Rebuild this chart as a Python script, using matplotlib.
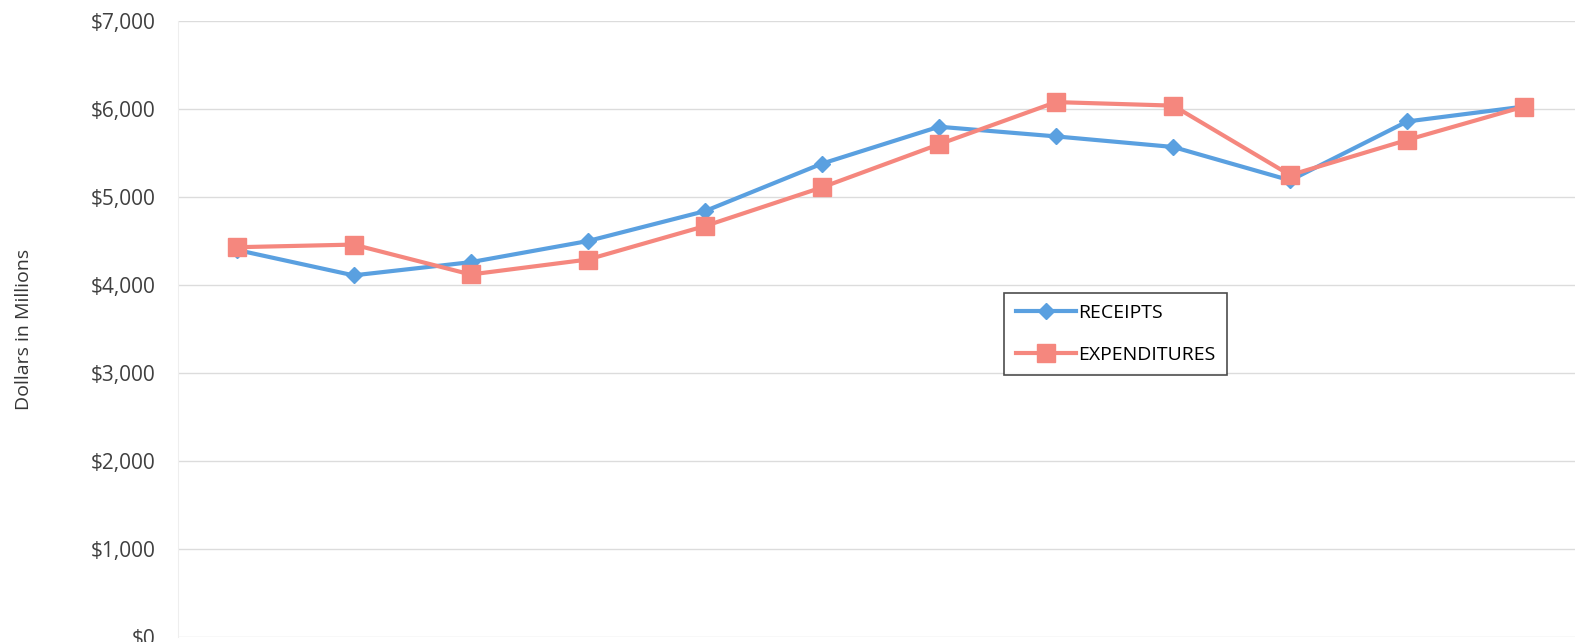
import matplotlib
matplotlib.use("Agg")
import matplotlib.pyplot as plt
from matplotlib.ticker import FuncFormatter

# values in millions
years = list(range(12))
receipts = [4400, 4110, 4260, 4500, 4840, 5380, 5800, 5690, 5570, 5190, 5860, 6030]
expenditures = [4430, 4460, 4120, 4290, 4670, 5110, 5600, 6080, 6040, 5250, 5650, 6030]
y_ticks = [0, 1000, 2000, 3000, 4000, 5000, 6000, 7000]

plt.rcParams['font.family'] = ['Open Sans', 'DejaVu Sans']

fig = plt.figure(figsize=(15.75, 6.42), dpi=100)
ax = fig.add_axes([0.113, 0.008, 0.892, 0.959])

blue = '#5aa0e0'
red = '#f5877e'

ax.plot(years, receipts, color=blue, lw=3, marker='D', markersize=8,
        markerfacecolor=blue, markeredgecolor=blue, label='RECEIPTS', zorder=3)
ax.plot(years, expenditures, color=red, lw=3, marker='s', markersize=12.5,
        markerfacecolor=red, markeredgecolor=red, label='EXPENDITURES', zorder=3)

ax.set_xlim(-0.5, 11.5)
ax.set_ylim(0, 7000)
ax.set_yticks(y_ticks)
ax.yaxis.set_major_formatter(FuncFormatter(lambda v, p: '${:,.0f}'.format(v)))
ax.set_xticks([])
ax.tick_params(axis='y', length=0, pad=16, labelsize=15, labelcolor='#404040')
ax.grid(axis='y', color='#dcdcdc', lw=1)
ax.set_axisbelow(True)
for s in ['top', 'right', 'bottom']:
    ax.spines[s].set_visible(False)
ax.spines['left'].set_color('#eeeeee')

ax.set_ylabel('Dollars in Millions', fontsize=14, color='#353535', labelpad=42)

leg = ax.legend(loc='upper left', bbox_to_anchor=(0.581, 0.575), fontsize=14,
                frameon=True, fancybox=False, edgecolor='#202020',
                handlelength=3.1, labelspacing=1.2, borderpad=0.6, handletextpad=0.1)
leg.get_frame().set_linewidth(1.2)

fig.savefig('out.png', dpi=100)
